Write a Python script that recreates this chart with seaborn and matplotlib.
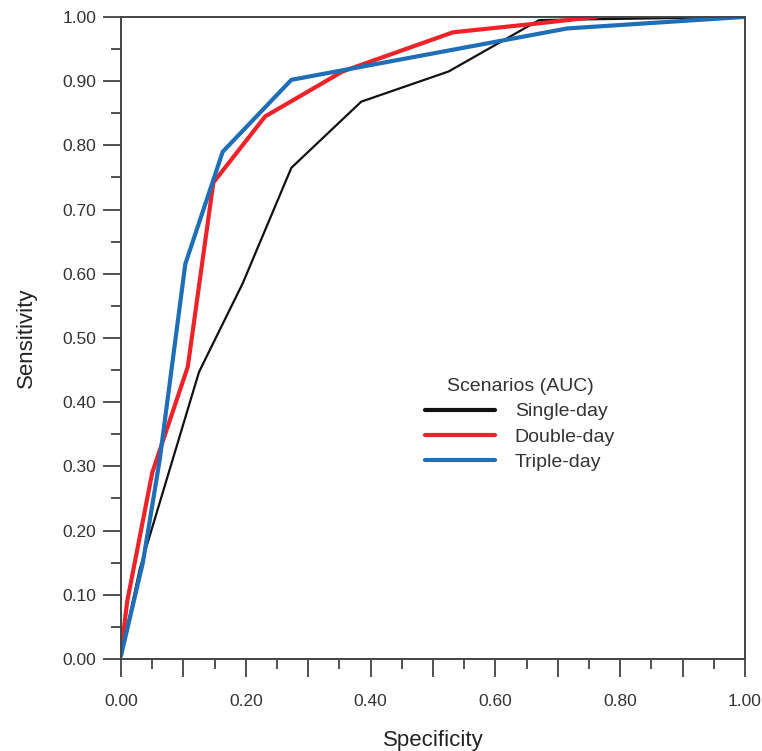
import numpy as np
import pandas as pd
import matplotlib.pyplot as plt
import seaborn as sns
from matplotlib.ticker import MultipleLocator, FormatStrFormatter

# ROC points
single_x = [0.0, 0.03, 0.125, 0.195, 0.273, 0.385, 0.525, 0.67, 1.0]
single_y = [0.005, 0.14, 0.447, 0.585, 0.765, 0.868, 0.915, 0.995, 1.0]

double_x = [0.0, 0.01, 0.05, 0.107, 0.148, 0.231, 0.355, 0.532, 0.67, 0.761]
double_y = [0.01, 0.09, 0.29, 0.455, 0.742, 0.845, 0.915, 0.976, 0.99, 1.0]

triple_x = [0.0, 0.035, 0.062, 0.103, 0.163, 0.273, 0.715, 1.0]
triple_y = [0.005, 0.15, 0.31, 0.615, 0.79, 0.902, 0.982, 1.0]

scenarios = ['Single-day', 'Double-day', 'Triple-day']
colors = ['#111111', '#ee2229', '#1e6eb8']
widths = [1.6, 3.0, 3.0]

frames = []
for name, xs, ys in zip(scenarios, [single_x, double_x, triple_x], [single_y, double_y, triple_y]):
    frames.append(pd.DataFrame({'Specificity': xs, 'Sensitivity': ys, 'scenario': name}))
df = pd.concat(frames, ignore_index=True)

sns.set_style('white')
plt.rcParams['font.family'] = ['Liberation Sans', 'DejaVu Sans']

fig = plt.figure(figsize=(7.62, 7.51), dpi=100)
ax = fig.add_axes([0.1588, 0.1225, 0.8189, 0.855])

for name, col, lw in zip(scenarios, colors, widths):
    sns.lineplot(data=df[df['scenario'] == name], x='Specificity', y='Sensitivity',
                 color=col, linewidth=lw, sort=False, estimator=None, ax=ax, label=name)

ax.set_xlim(0, 1)
ax.set_ylim(0, 1)

ax.xaxis.set_minor_locator(MultipleLocator(0.05))
ax.yaxis.set_major_locator(MultipleLocator(0.1))
ax.yaxis.set_minor_locator(MultipleLocator(0.05))
ax.yaxis.set_major_formatter(FormatStrFormatter('%.2f'))
xlabels = ['%.2f' % v if round(v * 10) % 2 == 0 else '' for v in np.arange(0, 1.01, 0.1)]
ax.set_xticks(np.arange(0, 1.01, 0.1))
ax.set_xticklabels(xlabels)

ax.tick_params(which='both', bottom=True, left=True, top=False, right=False)
ax.tick_params(which='major', direction='out', length=13, width=1.2, color='#333333',
               labelsize=12.5, labelcolor='#333333')
ax.tick_params(which='minor', direction='out', length=7, width=1.2, color='#333333')
ax.tick_params(axis='x', which='major', pad=12)
ax.tick_params(axis='y', which='major', pad=5)

for s in ax.spines.values():
    s.set_color('#444444')
    s.set_linewidth(1.4)
    s.set_visible(True)

ax.set_xlabel('Specificity', fontsize=16, color='#222222', labelpad=15)
ax.set_ylabel('Sensitivity', fontsize=16, color='#222222', labelpad=18)

leg = ax.legend(title='Scenarios (AUC)', loc='center left', bbox_to_anchor=(0.472, 0.365),
                frameon=False, fontsize=14, title_fontsize=14, handlelength=3.6,
                handletextpad=1.0, labelspacing=0.4, borderpad=0)
for t in leg.get_texts():
    t.set_color('#333333')
leg.get_title().set_color('#333333')
for h in leg.get_lines():
    h.set_linewidth(3.0)

fig.savefig('out.png', dpi=100)
